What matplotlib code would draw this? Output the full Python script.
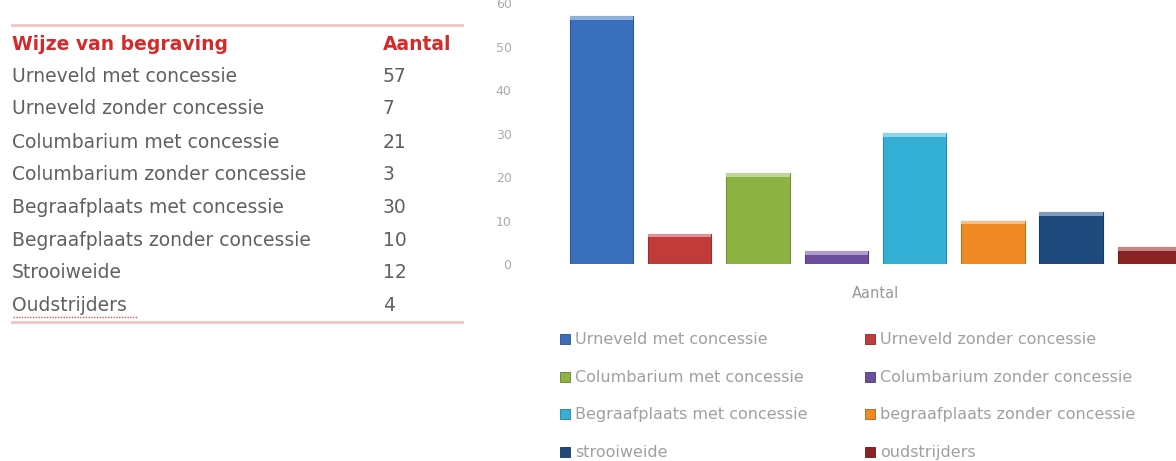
import matplotlib
matplotlib.use("Agg")
import matplotlib.pyplot as plt
import matplotlib.patches as mpatches
from matplotlib.colors import to_rgb
import numpy as np

# table data
tabel_labels = ["Urneveld met concessie", "Urneveld zonder concessie",
                "Columbarium met concessie", "Columbarium zonder concessie",
                "Begraafplaats met concessie", "Begraafplaats zonder concessie",
                "Strooiweide", "Oudstrijders"]
aantal = [57, 7, 21, 3, 30, 10, 12, 4]

# legend labels as written in the chart
legend_labels = ["Urneveld met concessie", "Urneveld zonder concessie",
                 "Columbarium met concessie", "Columbarium zonder concessie",
                 "Begraafplaats met concessie", "begraafplaats zonder concessie",
                 "strooiweide", "oudstrijders"]
kleuren = ["#3a6fbd", "#c23b3b", "#8db443", "#6d4e9e",
           "#34b0d4", "#ef8a25", "#1f4a7e", "#8a2322"]

W, H = 1176, 461
plt.rcParams["font.family"] = ["DejaVu Sans"]
fig = plt.figure(figsize=(W / 100, H / 100), dpi=100)


def fx(px):
    return px / W


def fy(py):
    return 1 - py / H


# --- table on the left ---
for yy in (25, 322):
    fig.add_artist(plt.Line2D([fx(12), fx(462)], [fy(yy), fy(yy)],
                              color="#f2c4c4", lw=2))
fig.text(fx(12), fy(44), "Wijze van begraving", color="#d42a2a",
         fontsize=13.5, fontweight="bold", va="center")
fig.text(fx(383), fy(44), "Aantal", color="#d42a2a",
         fontsize=13.5, fontweight="bold", va="center")
row_y = [76, 109, 142, 174, 207, 240, 272, 305]
for yy, lab, n in zip(row_y, tabel_labels, aantal):
    fig.text(fx(12), fy(yy), lab, color="#606060", fontsize=13.5, va="center")
    fig.text(fx(383), fy(yy), str(n), color="#606060", fontsize=13.5, va="center")
# spell-check underline under last row
fig.add_artist(plt.Line2D([fx(13), fx(138)], [fy(317), fy(317)],
                          color="#e05050", lw=1, ls=(0, (1, 1))))

# --- bar chart on the right ---
ax = fig.add_axes([fx(531), 1 - 264 / H, 1 - fx(531), (264 - 3) / H])
x = np.arange(len(aantal))
vals = np.array(aantal, dtype=float)
ax.bar(x, vals, width=0.81, color=kleuren, edgecolor=[
    tuple(c * 0.8 for c in to_rgb(k)) for k in kleuren], linewidth=0.8)
# lighter bevel strip on top of each bar
licht = [tuple(0.55 * c + 0.45 for c in to_rgb(k)) for k in kleuren]
ax.bar(x, [0.9] * len(x), bottom=vals - 0.9, width=0.81, color=licht,
       linewidth=0)
ax.set_xlim(-0.9, 7.34)
ax.set_ylim(0, 60)
ax.set_yticks(range(0, 61, 10))
ax.tick_params(axis="y", length=0, labelsize=9, labelcolor="#aaaaaa", pad=14)
ax.set_xticks([])
for s in ax.spines.values():
    s.set_visible(False)
fig.text(fx(876), fy(294), "Aantal", color="#999999", fontsize=10.5,
         ha="center", va="center")

# legend, two columns filled row by row
leg_col_x = [560, 865]
leg_row_y = [339, 377, 414, 452]
for i, (lab, k) in enumerate(zip(legend_labels, kleuren)):
    px = leg_col_x[i % 2]
    py = leg_row_y[i // 2]
    fig.add_artist(mpatches.Rectangle(
        (fx(px), fy(py + 5)), fx(10), 10 / H, facecolor=k,
        edgecolor=tuple(c * 0.7 for c in to_rgb(k)), lw=0.6))
    fig.text(fx(px + 15), fy(py), lab, color="#a0a0a0", fontsize=11.5,
             va="center", ha="left")

fig.savefig("out.png", dpi=100)
